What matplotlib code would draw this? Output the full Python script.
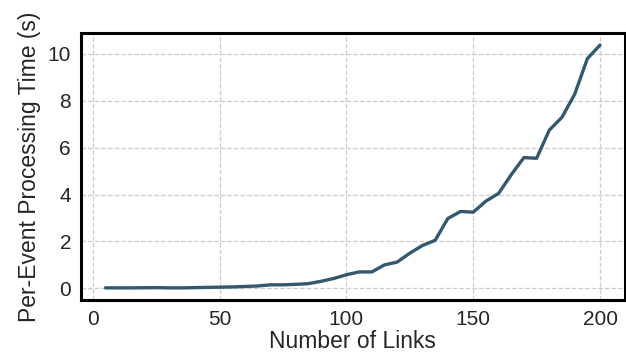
import matplotlib
matplotlib.use("Agg")
import matplotlib.pyplot as plt
import seaborn as sns

# Per-event processing time vs. number of links
num_links = list(range(5, 205, 5))
proc_time = [0.02, 0.02, 0.02, 0.025, 0.03, 0.02, 0.02, 0.03, 0.04, 0.05,
             0.06, 0.08, 0.10, 0.15, 0.15, 0.17, 0.20, 0.30, 0.42, 0.58,
             0.70, 0.70, 1.00, 1.12, 1.50, 1.83, 2.05, 2.98, 3.28, 3.25,
             3.72, 4.05, 4.85, 5.58, 5.55, 6.75, 7.30, 8.28, 9.80, 10.38]

sns.set_style("whitegrid", {"grid.linestyle": "--"})
plt.rcParams['font.family'] = ['Liberation Sans', 'DejaVu Sans']

fig = plt.figure(figsize=(6.26, 3.58), dpi=100)
ax = fig.add_axes([0.129, 0.162, 0.869, 0.746])

ax.plot(num_links, proc_time, color='#34586e', linewidth=2.4)

ax.set_xlabel('Number of Links', fontsize=16.5, labelpad=1, color='#262626')
ax.set_ylabel('Per-Event Processing Time (s)', fontsize=16.5, labelpad=5,
              color='#262626')
ax.set_xticks([0, 50, 100, 150, 200])
ax.set_yticks([0, 2, 4, 6, 8, 10])
ax.tick_params(labelsize=15, length=0, pad=7, labelcolor='#262626')
ax.grid(True, color='#cccccc', linestyle='--', linewidth=0.9)

for s in ax.spines.values():
    s.set_color('black')
    s.set_linewidth(2.2)

fig.savefig('out.png', dpi=100)
